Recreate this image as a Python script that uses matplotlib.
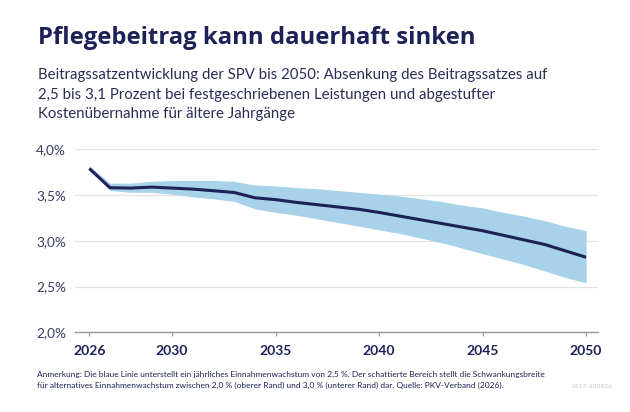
import matplotlib
matplotlib.use("Agg")
import matplotlib.pyplot as plt

# data
years = list(range(2026, 2051))
rate_main = [3.79, 3.58, 3.576, 3.587, 3.576, 3.565, 3.547, 3.528, 3.47, 3.45,
             3.42, 3.395, 3.37, 3.345, 3.31, 3.27, 3.23, 3.19, 3.15, 3.11,
             3.06, 3.01, 2.96, 2.89, 2.82]
rate_upper = [3.82, 3.63, 3.63, 3.65, 3.66, 3.66, 3.66, 3.65, 3.61, 3.60,
              3.58, 3.57, 3.55, 3.53, 3.51, 3.49, 3.46, 3.43, 3.39, 3.36,
              3.31, 3.27, 3.22, 3.16, 3.11]
rate_lower = [3.78, 3.55, 3.53, 3.53, 3.51, 3.48, 3.46, 3.43, 3.35, 3.31,
              3.28, 3.24, 3.20, 3.16, 3.12, 3.08, 3.03, 2.98, 2.92, 2.86,
              2.80, 2.74, 2.67, 2.60, 2.54]
xticks = [2026, 2030, 2035, 2040, 2045, 2050]
yticks = [2.0, 2.5, 3.0, 3.5, 4.0]
ytick_labels = ["2,0%", "2,5%", "3,0%", "3,5%", "4,0%"]

title = "Pflegebeitrag kann dauerhaft sinken"
subtitle = ["Beitragssatzentwicklung der SPV bis 2050: Absenkung des Beitragssatzes auf",
            "2,5 bis 3,1 Prozent bei festgeschriebenen Leistungen und abgestufter",
            "Kostenübernahme für ältere Jahrgänge"]
note = ["Anmerkung: Die blaue Linie unterstellt ein jährliches Einnahmenwachstum von 2,5 %. "
        "Der schattierte Bereich stellt die Schwankungsbreite",
        "für alternatives Einnahmenwachstum zwischen 2,0 % (oberer Rand) und 3,0 % "
        "(unterer Rand) dar. Quelle: PKV-Verband (2026)."]
code = "0117-100826"

navy = "#1d2157"
band = "#a8d1ea"
font = ["Lato", "DejaVu Sans"]
plt.rcParams["font.family"] = font

W, H = 630, 412
fig = plt.figure(figsize=(6.3, 4.12), dpi=100)
ax = fig.add_axes([75 / W, 1 - 332.3 / H, 523.3 / W, 183 / H])

ax.fill_between(years, rate_lower, rate_upper, color=band, lw=0, zorder=2)
ax.plot(years, rate_main, color=navy, lw=2.2, zorder=3, solid_capstyle="butt")

ax.set_xlim(2025.31, 2050.59)
ax.set_ylim(2.0, 4.0)
ax.set_xticks(xticks)
ax.set_xticklabels([str(x) for x in xticks], fontsize=10, fontweight="bold", color=navy)
ax.set_yticks(yticks)
ax.set_yticklabels(ytick_labels, fontsize=9.8, color="#3a3c62")
ax.grid(axis="y", color="#e3e3e3", lw=0.9, zorder=0)
ax.tick_params(axis="y", length=0, pad=6.5)
ax.tick_params(axis="x", length=2.8, width=0.8, color="#999999", pad=6.2)
for s in ["top", "right", "left"]:
    ax.spines[s].set_visible(False)
ax.spines["bottom"].set_color("#999999")
ax.spines["bottom"].set_linewidth(1.0)
ax.spines["bottom"].set_zorder(4)

renderer = fig.canvas.get_renderer()


def put(x, y, s, width=None, **kw):
    # place text by pixel position, optionally scaled to a pixel width
    t = fig.text(x / W, 1 - y / H, s, va="baseline", **kw)
    if width:
        w = t.get_window_extent(renderer).width
        t.set_fontsize(t.get_fontsize() * width / w)
    return t


put(37.7, 44.3, title, width=438, fontsize=16, fontweight="bold", color=navy,
    family=["Open Sans", "DejaVu Sans"])
sub = put(38, 79, subtitle[0], width=510, fontsize=11, color="#2b2d55")
for i, line in enumerate(subtitle[1:], start=1):
    put(38, 79 + i * 19.6, line, fontsize=sub.get_fontsize(), color="#2b2d55")
n0 = put(37, 376.5, note[0], width=511, fontsize=5.5, color=navy)
put(37, 388, note[1], fontsize=n0.get_fontsize(), color=navy)
put(572, 388, code, width=40, fontsize=5.5, color="#c3c3cc")

fig.savefig("out.png", dpi=100)
